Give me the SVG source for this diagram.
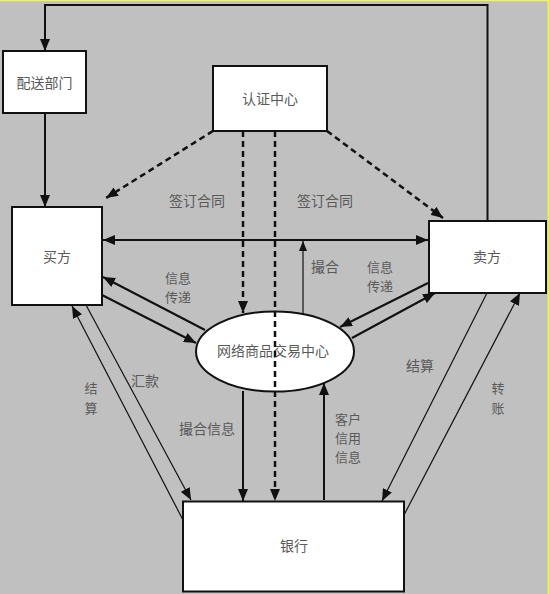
<svg xmlns="http://www.w3.org/2000/svg" width="549" height="594" viewBox="0 0 549 594">
<defs>
<style>
.box{fill:#fff;stroke:#111;stroke-width:2}
.t{font-family:"Noto Sans CJK SC","Liberation Serif",serif;font-size:14px;fill:#5a5a5a;text-anchor:middle;dominant-baseline:central}
.sm{font-size:13px}
.c{fill:none;stroke:#111;stroke-width:2}
.thin{fill:none;stroke:#111;stroke-width:1.2}
.d{fill:none;stroke:#111;stroke-width:2.5;stroke-dasharray:6 4}
</style>
<marker id="a" markerUnits="userSpaceOnUse" markerWidth="12" markerHeight="10" viewBox="0 0 12 10" refX="12" refY="5" orient="auto-start-reverse">
<path d="M0,0 L12,5 L0,10 Z" fill="#111"/>
</marker>
<marker id="s" markerUnits="userSpaceOnUse" markerWidth="10" markerHeight="8" viewBox="0 0 10 8" refX="10" refY="4" orient="auto">
<path d="M0,0 L10,4 L0,8 Z" fill="#111"/>
</marker>
</defs>
<rect x="0" y="0" width="549" height="594" fill="#c0c0c0"/>
<line x1="0" y1="0.5" x2="549" y2="0.5" stroke="#f2f25a" stroke-width="1.5"/>
<line x1="548.3" y1="0" x2="548.3" y2="594" stroke="#f2f25a" stroke-width="1.5"/>

<g id="peisong"><rect class="box" x="3" y="51" width="83" height="62"/><text class="t" x="44.5" y="82">配送部门</text></g>
<g id="renzheng"><rect class="box" x="213" y="66" width="114" height="65"/><text class="t" x="270" y="98">认证中心</text></g>
<g id="maifang"><rect class="box" x="12" y="207" width="90" height="98"/><text class="t" x="57" y="256">买方</text></g>
<g id="maifang2"><rect class="box" x="429" y="221" width="117" height="72"/><text class="t" x="487" y="256">卖方</text></g>
<g id="center"><ellipse cx="275" cy="351.5" rx="79" ry="40" fill="#fff" stroke="#111" stroke-width="2"/><text class="t" x="273" y="350">网络商品交易中心</text></g>
<g id="bank"><rect class="box" x="183" y="501.5" width="221" height="90"/><text class="t" x="294" y="545">银行</text></g>

<g id="connectors">
<polyline class="c" points="487.5,221 487.5,5 45,5 45,51" marker-end="url(#a)"/>
<line class="c" x1="45" y1="113" x2="45" y2="207" marker-end="url(#a)"/>
<line class="d" x1="213" y1="131" x2="106" y2="198" marker-end="url(#a)"/>
<line class="d" x1="327" y1="131" x2="443" y2="218" marker-end="url(#a)"/>
<line class="d" x1="243" y1="131" x2="243" y2="313" marker-end="url(#a)"/>
<line class="d" x1="275" y1="131" x2="275" y2="501" marker-end="url(#a)"/>
<line class="c" x1="103" y1="240" x2="428" y2="240" marker-start="url(#a)" marker-end="url(#a)"/>
<line class="thin" x1="303" y1="314" x2="303" y2="241" marker-end="url(#s)"/>
<line class="c" x1="205" y1="330" x2="103" y2="277" marker-end="url(#a)"/>
<line class="c" x1="102" y1="295" x2="196" y2="343" marker-end="url(#a)"/>
<line class="c" x1="428" y1="283" x2="340" y2="327" marker-end="url(#a)"/>
<line class="c" x1="352" y1="338" x2="435" y2="293" marker-end="url(#a)"/>
<line class="thin" x1="86" y1="305" x2="191" y2="500" marker-end="url(#a)"/>
<line class="thin" x1="183" y1="520" x2="72" y2="306" marker-end="url(#a)"/>
<line class="thin" x1="487" y1="293" x2="382" y2="501" marker-end="url(#a)"/>
<line class="thin" x1="404" y1="515" x2="520" y2="293" marker-end="url(#a)"/>
<line class="c" x1="243" y1="391" x2="243" y2="501" marker-end="url(#a)"/>
<line class="c" x1="324" y1="500" x2="324" y2="383" marker-end="url(#a)"/>
</g>

<g id="labels">
<text class="t" x="197" y="200">签订合同</text>
<text class="t" x="325" y="200">签订合同</text>
<text class="t sm" x="178" y="277">信息</text>
<text class="t sm" x="178" y="296">传递</text>
<text class="t" x="325" y="266">撮合</text>
<text class="t sm" x="380" y="266">信息</text>
<text class="t sm" x="380" y="285">传递</text>
<text class="t" x="145" y="380">汇款</text>
<text class="t sm" x="91" y="387">结</text>
<text class="t sm" x="91" y="407">算</text>
<text class="t" x="420" y="365">结算</text>
<text class="t sm" x="498" y="387">转</text>
<text class="t sm" x="498" y="407">账</text>
<text class="t" x="207" y="428">撮合信息</text>
<text class="t sm" x="348" y="418">客户</text>
<text class="t sm" x="348" y="437">信用</text>
<text class="t sm" x="348" y="456">信息</text>
</g>
</svg>
